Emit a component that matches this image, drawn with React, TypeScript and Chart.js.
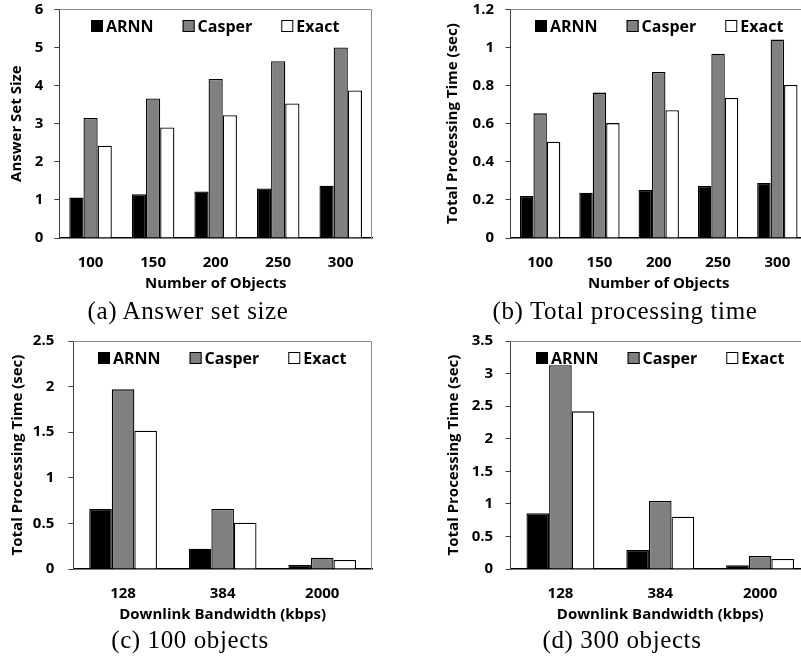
import React, { useEffect, useRef } from 'react';
import { Chart, registerables } from 'chart.js';

Chart.register(...registerables);

// ---- data ----
const objectCounts = ['100', '150', '200', '250', '300'];
const bandwidths = ['128', '384', '2000'];
const seriesNames = ['ARNN', 'Casper', 'Exact'];

const answerARNN = [1.06, 1.15, 1.22, 1.3, 1.37];
const answerCasper = [3.15, 3.66, 4.17, 4.64, 5.0];
const answerExact = [2.42, 2.9, 3.22, 3.53, 3.87];

const timeARNN = [0.22, 0.238, 0.252, 0.273, 0.289];
const timeCasper = [0.654, 0.763, 0.871, 0.967, 1.041];
const timeExact = [0.505, 0.603, 0.67, 0.735, 0.803];

const bw100ARNN = [0.658, 0.223, 0.044];
const bw100Casper = [1.97, 0.658, 0.124];
const bw100Exact = [1.517, 0.508, 0.099];

const bw300ARNN = [0.855, 0.292, 0.056];
const bw300Casper = [3.127, 1.044, 0.2];
const bw300Exact = [2.42, 0.803, 0.154];

const captions = ['(a) Answer set size', '(b) Total processing time', '(c) 100 objects', '(d) 300 objects'];

// ---- styles ----
const seriesColors = ['#000000', '#808080', '#ffffff'];
const FONT = '"Open Sans", Lato, sans-serif';
const SERIF = '"Liberation Serif", "DejaVu Serif", serif';

const legendPlugin = {
  id: 'insideLegend',
  afterDraw(chart: any) {
    const { ctx, chartArea } = chart;
    ctx.save();
    ctx.font = `bold 16px ${FONT}`;
    const box = 12;
    const gapText = 3;
    const gapItem = 29;
    const items = chart.data.datasets.map((ds: any) => ({
      label: ds.label,
      color: ds.backgroundColor,
      w: box + gapText + ctx.measureText(ds.label).width,
    }));
    const total = items.reduce((s: number, i: any) => s + i.w, 0) + gapItem * (items.length - 1);
    let x = Math.round((chartArea.left + chartArea.right) / 2 - total / 2);
    const y = Math.round(chartArea.top + 16.5);
    ctx.textBaseline = 'middle';
    ctx.textAlign = 'left';
    for (const it of items) {
      ctx.fillStyle = it.color;
      ctx.fillRect(x, y - box / 2, box, box);
      ctx.strokeStyle = '#000';
      ctx.lineWidth = 1;
      ctx.strokeRect(x + 0.5, y - box / 2 + 0.5, box - 1, box - 1);
      ctx.fillStyle = '#000';
      ctx.fillText(it.label, x + box + gapText, y + 1);
      x += it.w + gapItem;
    }
    ctx.restore();
  },
};

const framePlugin = {
  id: 'frame',
  beforeDatasetsDraw(chart: any) {
    const { ctx, chartArea } = chart;
    const { left, top, right, bottom } = chartArea;
    ctx.save();
    ctx.strokeStyle = '#8c8c8c';
    ctx.lineWidth = 1;
    ctx.beginPath();
    ctx.moveTo(left, Math.floor(top) + 0.5);
    ctx.lineTo(Math.floor(right) - 0.5, Math.floor(top) + 0.5);
    ctx.lineTo(Math.floor(right) - 0.5, bottom);
    ctx.stroke();
    ctx.restore();
  },
};

type PanelCfg = {
  labels: string[];
  series: number[][];
  yMax: number;
  step: number;
  xTitle: string;
  yTitle: string;
  left: number;
  top: number;
  w: number;
  h: number;
  padTop: number;
  padRight: number;
  yAxisW: number;
  xAxisH: number;
  yTitlePad: number;
  yTickPad: number;
};

function Panel({ cfg }: { cfg: PanelCfg }) {
  const ref = useRef<HTMLCanvasElement | null>(null);
  useEffect(() => {
    const axisFont = { family: FONT, weight: 'bold' as const, size: 15 };
    const chart = new Chart(ref.current as HTMLCanvasElement, {
      type: 'bar',
      data: {
        labels: cfg.labels,
        datasets: cfg.series.map((vals, i) => ({
          label: seriesNames[i],
          data: vals,
          backgroundColor: seriesColors[i],
          borderColor: '#000',
          borderWidth: 1.3,
          categoryPercentage: 0.68,
          barPercentage: 1,
        })),
      },
      options: {
        responsive: false,
        animation: false,
        devicePixelRatio: 1,
        layout: { padding: { left: 0, top: cfg.padTop, right: cfg.padRight, bottom: 0 } },
        plugins: { legend: { display: false }, tooltip: { enabled: false } },
        scales: {
          x: {
            grid: { display: false, drawTicks: false },
            border: { color: '#000', width: 1.5 },
            ticks: { color: '#000', padding: 15.5, font: axisFont },
            title: {
              display: true,
              text: cfg.xTitle,
              color: '#000',
              font: axisFont,
              padding: { top: 0, bottom: 7.5 },
            },
            afterFit: (s: any) => {
              s.height = cfg.xAxisH;
              s.paddingLeft = 0;
              s.paddingRight = 0;
            },
          },
          y: {
            min: 0,
            max: cfg.yMax,
            ticks: {
              stepSize: cfg.step,
              color: '#000',
              padding: cfg.yTickPad,
              font: axisFont,
              callback: (v: any) => String(Number(Number(v).toFixed(2))),
            },
            grid: { drawOnChartArea: false, drawTicks: true, tickLength: 5, color: '#404040' },
            border: { color: '#404040', width: 1 },
            title: {
              display: true,
              text: cfg.yTitle,
              color: '#000',
              font: axisFont,
              padding: { top: cfg.yTitlePad, bottom: 0 },
            },
            afterFit: (s: any) => {
              s.width = cfg.yAxisW;
              s.paddingTop = 0;
              s.paddingBottom = 0;
            },
          },
        },
      } as any,
      plugins: [framePlugin, legendPlugin],
    });
    return () => chart.destroy();
  }, [cfg]);
  return (
    <canvas
      ref={ref}
      width={cfg.w}
      height={cfg.h}
      style={{ position: 'absolute', left: cfg.left, top: cfg.top, width: cfg.w, height: cfg.h }}
    />
  );
}

const panels: PanelCfg[] = [
  {
    labels: objectCounts,
    series: [answerARNN, answerCasper, answerExact],
    yMax: 6,
    step: 1,
    xTitle: 'Number of Objects',
    yTitle: 'Answer Set Size',
    left: 0,
    top: 0,
    w: 400,
    h: 300,
    padTop: 9.3,
    padRight: 28,
    yAxisW: 59.3,
    xAxisH: 62,
    yTitlePad: 8,
    yTickPad: 11,
  },
  {
    labels: objectCounts,
    series: [timeARNN, timeCasper, timeExact],
    yMax: 1.2,
    step: 0.2,
    xTitle: 'Number of Objects',
    yTitle: 'Total Processing Time (sec)',
    left: 440,
    top: 0,
    w: 411,
    h: 300,
    padTop: 9.3,
    padRight: 44,
    yAxisW: 70.5,
    xAxisH: 62,
    yTitlePad: 4,
    yTickPad: 11.5,
  },
  {
    labels: bandwidths,
    series: [bw100ARNN, bw100Casper, bw100Exact],
    yMax: 2.5,
    step: 0.5,
    xTitle: 'Downlink Bandwidth (kbps)',
    yTitle: 'Total Processing Time (sec)',
    left: 0,
    top: 320,
    w: 400,
    h: 311,
    padTop: 21,
    padRight: 28,
    yAxisW: 73.3,
    xAxisH: 62,
    yTitlePad: 8.3,
    yTickPad: 14,
  },
  {
    labels: bandwidths,
    series: [bw300ARNN, bw300Casper, bw300Exact],
    yMax: 3.5,
    step: 0.5,
    xTitle: 'Downlink Bandwidth (kbps)',
    yTitle: 'Total Processing Time (sec)',
    left: 440,
    top: 320,
    w: 411,
    h: 311,
    padTop: 21,
    padRight: 41,
    yAxisW: 70.5,
    xAxisH: 62,
    yTitlePad: 4.3,
    yTickPad: 12.3,
  },
];

const captionPos = [
  { x: 188, y: 297 },
  { x: 625, y: 297 },
  { x: 190, y: 626 },
  { x: 622, y: 626 },
];

export default function App() {
  return (
    <div
      style={{
        position: 'fixed',
        left: 0,
        top: 0,
        width: 801,
        height: 662,
        overflow: 'hidden',
        background: '#fff',
      }}
    >
      {panels.map((p, i) => (
        <Panel key={i} cfg={p} />
      ))}
      {captions.map((c, i) => (
        <div
          key={'c' + i}
          style={{
            position: 'absolute',
            left: captionPos[i].x,
            top: captionPos[i].y,
            transform: 'translateX(-50%)',
            fontFamily: SERIF,
            fontSize: 25,
            letterSpacing: '0.6px',
            lineHeight: '28px',
            whiteSpace: 'nowrap',
            color: '#000',
          }}
        >
          {c}
        </div>
      ))}
    </div>
  );
}
